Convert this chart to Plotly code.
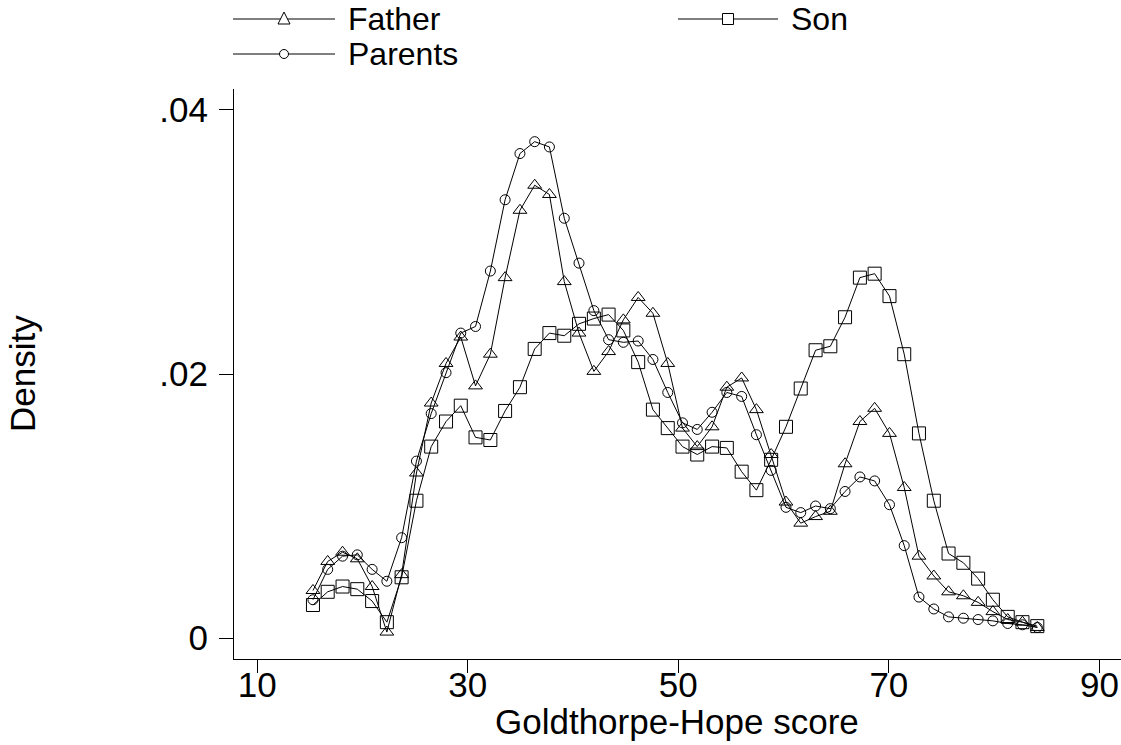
import plotly.graph_objects as go

# Evaluation grid (Goldthorpe-Hope score)
score = [15.30, 16.70, 18.11, 19.51, 20.92, 22.32, 23.72, 25.13, 26.53, 27.94,
         29.34, 30.74, 32.15, 33.55, 34.96, 36.36, 37.76, 39.17, 40.57, 41.98,
         43.38, 44.78, 46.19, 47.59, 49.00, 50.40, 51.80, 53.21, 54.61, 56.02,
         57.42, 58.82, 60.23, 61.63, 63.04, 64.44, 65.84, 67.25, 68.65, 70.06,
         71.46, 72.86, 74.27, 75.67, 77.08, 78.48, 79.88, 81.29, 82.69, 84.10]

father = [0.0036, 0.0058, 0.0065, 0.0060, 0.0039, 0.00045, 0.0048, 0.0125, 0.0178, 0.0208,
          0.0228, 0.0191, 0.0215, 0.0273, 0.0324, 0.0343, 0.0336, 0.0270, 0.0231, 0.0202,
          0.0217, 0.0241, 0.0258, 0.0246, 0.0208, 0.0159, 0.0145, 0.0160, 0.0190, 0.0197,
          0.0173, 0.0139, 0.0103, 0.0087, 0.0092, 0.0096, 0.0132, 0.0164, 0.0174, 0.0155,
          0.0114, 0.0062, 0.0047, 0.0035, 0.0032, 0.0027, 0.0020, 0.0014, 0.0012, 0.0008]

son = [0.0025, 0.0035, 0.0039, 0.0037, 0.0028, 0.0012, 0.0046, 0.0104, 0.0145, 0.0164,
       0.0176, 0.0152, 0.0150, 0.0172, 0.0190, 0.0219, 0.0231, 0.0229, 0.0238, 0.0242,
       0.0245, 0.0233, 0.0209, 0.0173, 0.0159, 0.0145, 0.0139, 0.0145, 0.0144, 0.0126,
       0.0112, 0.0135, 0.0160, 0.0189, 0.0218, 0.0221, 0.0243, 0.0273, 0.0276, 0.0259,
       0.0215, 0.0155, 0.0104, 0.0064, 0.0057, 0.0045, 0.0029, 0.0016, 0.0012, 0.0009]

parents = [0.0029, 0.0052, 0.0062, 0.0063, 0.0052, 0.0043, 0.0076, 0.0134, 0.0170, 0.0201,
           0.0231, 0.0236, 0.0278, 0.0332, 0.0367, 0.0376, 0.0372, 0.0318, 0.0284, 0.0248,
           0.0226, 0.0224, 0.0225, 0.0211, 0.0186, 0.0163, 0.0158, 0.0171, 0.0186, 0.0183,
           0.0154, 0.0127, 0.0099, 0.0095, 0.0100, 0.0098, 0.0111, 0.0122, 0.0119, 0.0101,
           0.0070, 0.0031, 0.0022, 0.0016, 0.0015, 0.0014, 0.0013, 0.0011, 0.0010, 0.0008]

x_ticks = [10, 30, 50, 70, 90]
y_ticks = [0, 0.02, 0.04]
y_ticklabels = ["0", ".02", ".04"]

FONT = "Liberation Sans, Arial, Helvetica, sans-serif"
FS = 35
LFS = 32
W, H = 1121, 745
ML, MR, MT, MB = 234, 0, 89, 86

series = [
    ("Father", father, "triangle-up-open", 12),
    ("Son", son, "square-open", 13),
    ("Parents", parents, "circle-open", 10),
]

fig = go.Figure()
for name, vals, sym, sz in series:
    fig.add_trace(go.Scatter(
        x=score, y=vals, name=name, mode="lines+markers",
        line=dict(color="black", width=1),
        marker=dict(symbol=sym, size=sz, color="black", line=dict(width=1, color="black")),
        showlegend=False,
    ))

pw = W - ML - MR
ph = H - MT - MB


def px2paper(px, py):
    return (px - ML) / pw, (H - MB - py) / ph


# Custom legend (long key lines like the original)
legend_items = [
    ("Father", "triangle", 233, 335, 19, 347),
    ("Son", "square", 678, 778, 19, 790),
    ("Parents", "circle", 233, 335, 54, 347),
]
shapes = []
annotations = []
for name, kind, x0, x1, yy, tx in legend_items:
    a0, b0 = px2paper(x0, yy)
    a1, _ = px2paper(x1, yy)
    shapes.append(dict(type="line", xref="paper", yref="paper", x0=a0, x1=a1, y0=b0, y1=b0,
                       line=dict(color="black", width=1)))
    cx, cy = px2paper((x0 + x1) / 2, yy)
    if kind == "circle":
        r = 4.5
        shapes.append(dict(type="circle", xref="paper", yref="paper",
                           x0=cx - r / pw, x1=cx + r / pw, y0=cy - r / ph, y1=cy + r / ph,
                           line=dict(color="black", width=1), fillcolor="white"))
    elif kind == "square":
        r = 5.5
        shapes.append(dict(type="rect", xref="paper", yref="paper",
                           x0=cx - r / pw, x1=cx + r / pw, y0=cy - r / ph, y1=cy + r / ph,
                           line=dict(color="black", width=1), fillcolor="white"))
    else:
        hx, ht, hb = 6.0, 7.0, 5.0
        path = "M {} {} L {} {} L {} {} Z".format(
            cx - hx / pw, cy - hb / ph, cx + hx / pw, cy - hb / ph, cx, cy + ht / ph)
        shapes.append(dict(type="path", xref="paper", yref="paper", path=path,
                           line=dict(color="black", width=1), fillcolor="white"))
    tpx, tpy = px2paper(tx, yy)
    annotations.append(dict(text=name, x=tpx, y=tpy, xref="paper", yref="paper",
                            xanchor="left", yanchor="middle", showarrow=False, borderpad=0,
                            font=dict(family=FONT, size=LFS, color="black")))

# Axis titles
xt_x, xt_y = px2paper(677, 722)
annotations.append(dict(text="Goldthorpe-Hope score", x=xt_x, y=xt_y, xref="paper", yref="paper",
                        xanchor="center", yanchor="middle", showarrow=False, borderpad=0,
                        font=dict(family=FONT, size=FS, color="black")))
yt_x, yt_y = px2paper(22, 374)
annotations.append(dict(text="Density", x=yt_x, y=yt_y, xref="paper", yref="paper",
                        xanchor="center", yanchor="middle", showarrow=False, textangle=-90,
                        borderpad=0, font=dict(family=FONT, size=FS, color="black")))

fig.update_layout(
    width=W, height=H,
    margin=dict(l=ML, r=MR, t=MT, b=MB, autoexpand=False),
    paper_bgcolor="white", plot_bgcolor="white",
    font=dict(family=FONT, size=FS, color="black"),
    shapes=shapes, annotations=annotations,
    showlegend=False,
)
fig.update_xaxes(
    range=[7.8, 92.05], tickvals=x_ticks, showgrid=False, zeroline=False,
    showline=True, linecolor="black", linewidth=1,
    ticks="outside", ticklen=13, tickcolor="black", tickwidth=1,
    tickfont=dict(family=FONT, size=FS, color="black"),
    ticklabelstandoff=-18,
    automargin=False,
)
fig.update_yaxes(
    range=[-0.00159, 0.04159], tickvals=y_ticks, ticktext=y_ticklabels,
    showgrid=False, zeroline=False,
    showline=True, linecolor="black", linewidth=1,
    ticks="outside", ticklen=14, tickcolor="black", tickwidth=1,
    tickfont=dict(family=FONT, size=FS, color="black"),
    ticklabelstandoff=4,
    automargin=False,
)

fig.write_html("out.html", config={"displayModeBar": False},
               post_script="document.body.style.margin='0';document.body.style.overflow='hidden';")
